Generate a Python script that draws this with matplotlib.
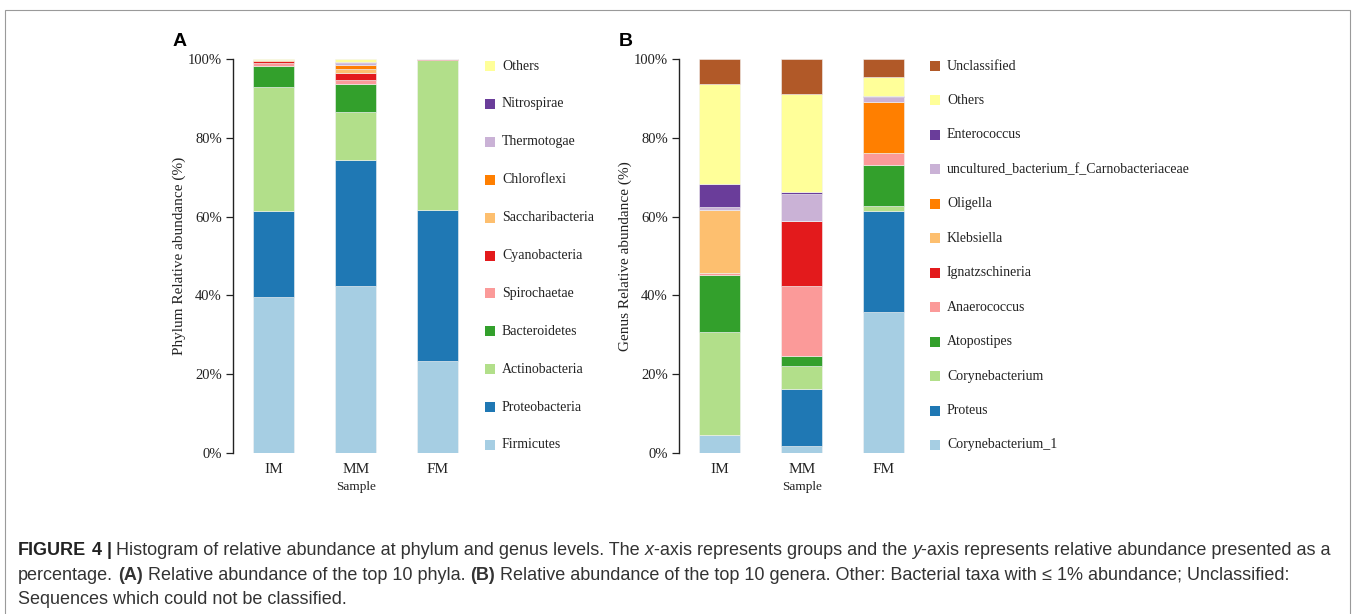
import matplotlib
matplotlib.use("Agg")
import matplotlib.pyplot as plt
from matplotlib.patches import Rectangle
import numpy as np

plt.rcParams['font.family'] = ['Liberation Serif', 'DejaVu Serif']

samples = ["IM", "MM", "FM"]

# Phylum level (bottom to top)
phyla = ["Firmicutes", "Proteobacteria", "Actinobacteria", "Bacteroidetes",
         "Spirochaetae", "Cyanobacteria", "Saccharibacteria", "Chloroflexi",
         "Thermotogae", "Nitrospirae", "Others"]
firmicutes = [39.7, 42.4, 23.4]
proteobacteria = [21.8, 32.0, 38.3]
actinobacteria = [31.3, 12.2, 37.95]
bacteroidetes = [5.4, 7.0, 0.15]
spirochaetae = [0.9, 1.1, 0.05]
cyanobacteria = [0.3, 1.7, 0.05]
saccharibacteria = [0.1, 1.1, 0.02]
chloroflexi = [0.2, 1.0, 0.02]
thermotogae = [0.05, 0.4, 0.01]
nitrospirae = [0.05, 0.3, 0.0]
others_phylum = [0.2, 0.8, 0.05]
phylum_values = [firmicutes, proteobacteria, actinobacteria, bacteroidetes,
                 spirochaetae, cyanobacteria, saccharibacteria, chloroflexi,
                 thermotogae, nitrospirae, others_phylum]

# Genus level (bottom to top)
genera = ["Corynebacterium_1", "Proteus", "Corynebacterium", "Atopostipes",
          "Anaerococcus", "Ignatzschineria", "Klebsiella", "Oligella",
          "uncultured_bacterium_f_Carnobacteriaceae", "Enterococcus",
          "Others", "Unclassified"]
corynebacterium_1 = [4.6, 1.8, 35.8]
proteus = [0.0, 14.4, 25.5]
corynebacterium = [26.1, 6.0, 1.4]
atopostipes = [14.5, 2.5, 10.4]
anaerococcus = [0.6, 17.7, 3.1]
ignatzschineria = [0.0, 16.5, 0.0]
klebsiella = [15.9, 0.0, 0.0]
oligella = [0.0, 0.0, 13.0]
uncultured_carno = [0.7, 6.8, 1.1]
enterococcus = [5.9, 0.5, 0.3]
others_genus = [25.4, 24.9, 4.9]
unclassified = [6.3, 8.9, 4.5]
genus_values = [corynebacterium_1, proteus, corynebacterium, atopostipes,
                anaerococcus, ignatzschineria, klebsiella, oligella,
                uncultured_carno, enterococcus, others_genus, unclassified]

paired = ["#A6CEE3", "#1F78B4", "#B2DF8A", "#33A02C", "#FB9A99", "#E31A1C",
          "#FDBF6F", "#FF7F00", "#CAB2D6", "#6A3D9A", "#FFFF99", "#B15928"]

W, H = 1355, 614
fig = plt.figure(figsize=(W / 100, H / 100), dpi=100)


def fx(px):
    return px / W


def fy(py):
    return 1 - py / H


# outer frame
fig.patches.append(Rectangle((fx(5), fy(700)), fx(1345), (700 - 10) / H,
                             transform=fig.transFigure, fill=False,
                             edgecolor="#9a9a9a", linewidth=0.8))


def stacked_panel(left_px, names, values, colors, ylabel, letter,
                  legend_x, legend_y0, legend_dy):
    ax = fig.add_axes([fx(left_px), fy(453), fx(246), (453 - 59) / H])
    x = np.arange(len(samples))
    bottom = np.zeros(len(samples))
    for name, vals, c in zip(names, values, colors):
        vals = np.array(vals, dtype=float)
        ax.bar(x, vals, width=0.5, bottom=bottom, color=c,
               edgecolor="#f2f2f2", linewidth=0.4)
        bottom += vals
    ax.set_xlim(-0.494, 2.5)
    ax.set_ylim(0, 100)
    ax.set_yticks([0, 20, 40, 60, 80, 100])
    ax.set_yticklabels([f"{v}%" for v in [0, 20, 40, 60, 80, 100]])
    ax.set_xticks(x)
    ax.set_xticklabels(samples, fontsize=11)
    ax.tick_params(axis="x", length=0, pad=7, colors="#222222")
    ax.tick_params(axis="y", length=5, width=0.9, labelsize=10.5,
                   colors="#222222", pad=3)
    for s in ["top", "right", "bottom"]:
        ax.spines[s].set_visible(False)
    ax.spines["left"].set_linewidth(1.0)
    ax.spines["left"].set_color("#222222")
    ax.set_ylabel(ylabel, fontsize=11, color="#222222", labelpad=1)
    fig.text(fx(left_px + 123), fy(487), "Sample", ha="center", va="center",
             fontsize=9.5, color="#222222")
    fig.text(fx(left_px - 60), fy(42), letter, ha="left", va="center",
             fontsize=14, fontweight="bold", family="Liberation Sans")
    # legend, top entry first
    order = list(range(len(names)))[::-1]
    for i, k in enumerate(order):
        yc = legend_y0 + i * legend_dy
        fig.patches.append(Rectangle((fx(legend_x), fy(yc + 5)), fx(10), 10 / H,
                                     transform=fig.transFigure,
                                     facecolor=colors[k], edgecolor="none"))
        fig.text(fx(legend_x + 17), fy(yc), names[k], ha="left", va="center",
                 fontsize=10, color="#222222")
    return ax


stacked_panel(233, phyla, phylum_values, paired[:11],
              "Phylum Relative abundance (%)", "A", 485, 66, 37.9)
stacked_panel(679, genera, genus_values, paired[:12],
              "Genus Relative abundance (%)", "B", 930, 66, 34.45)

# caption
cap_fam = ['Liberation Sans Narrow', 'Liberation Sans', 'DejaVu Sans']
cap_size = 12.95
cap_color = "#333333"
renderer = fig.canvas.get_renderer()


def text_width(s, **props):
    t = fig.text(0, 0, s, fontsize=cap_size, family=cap_fam, **props)
    w = t.get_window_extent(renderer).width
    t.remove()
    return w


space_px = text_width("a a") - text_width("aa")


def draw_runs(x_px, y_px, runs):
    x = x_px
    for s, props in runs:
        if s == " ":
            x += space_px
            continue
        props = dict(props)
        t = fig.text(fx(x), fy(y_px), s, fontsize=cap_size, family=cap_fam,
                     color=props.pop("color", cap_color), va="baseline",
                     **props)
        x += t.get_window_extent(renderer).width


B = {"fontweight": "bold"}
I = {"style": "italic"}
N = {}
D = {"fontweight": "bold", "color": "#222222"}
draw_runs(18, 555, [
    ("FIGURE", D), (" ", N), ("4", D), (" ", N), ("|", D), (" ", N),
    ("Histogram of relative abundance at phylum and genus levels. The", N),
    (" ", N), ("x", I), ("-axis represents groups and the", N), (" ", N),
    ("y", I), ("-axis represents relative abundance presented as a", N)])
draw_runs(18, 580, [
    ("percentage.", N), (" ", N), ("(A)", B), (" ", N),
    ("Relative abundance of the top 10 phyla.", N), (" ", N), ("(B)", B),
    (" ", N), ("Relative abundance of the top 10 genera. Other: Bacterial taxa with", N),
    (" ", N), ("\u2264", N), (" ", N), ("1% abundance; Unclassified:", N)])
draw_runs(18, 604, [("Sequences which could not be classified.", N)])

fig.savefig("out.png", dpi=100)
